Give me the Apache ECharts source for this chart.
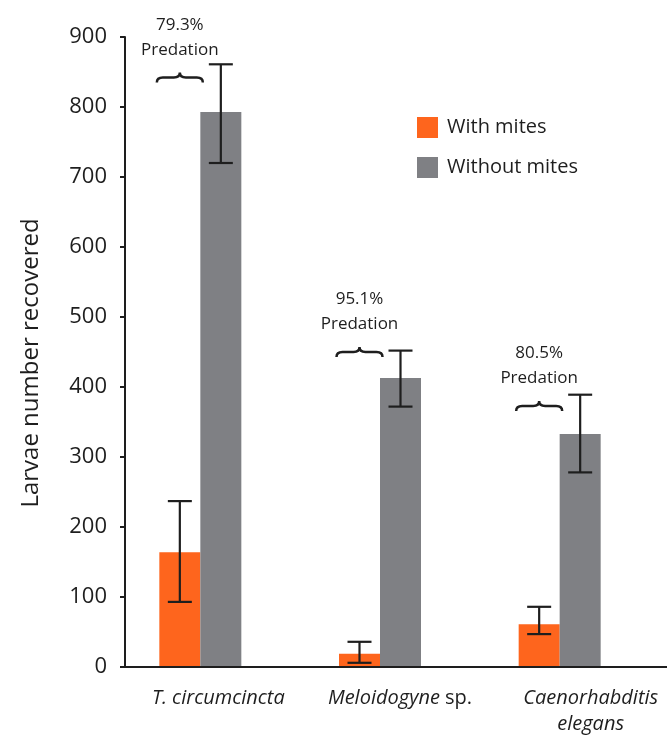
<!DOCTYPE html>
<html>
<head>
<meta charset="utf-8">
<script src="https://cdn.jsdelivr.net/npm/echarts@6/dist/echarts.min.js"></script>
<style>html,body{margin:0;padding:0;background:#fff}#c{width:667px;height:738px}</style>
</head>
<body>
<div id="c"></div>
<script>
var categories = ['T. circumcincta', 'Meloidogyne sp.', 'Caenorhabditis elegans'];
var withMites = [164, 19, 61];
var withMitesErrLow = [93, 6, 47];
var withMitesErrHigh = [237, 36, 86];
var withoutMites = [793, 413, 333];
var withoutMitesErrLow = [720, 372, 278];
var withoutMitesErrHigh = [861, 452, 389];
var predation = ['79.3%', '95.1%', '80.5%'];
var braceLevel = [842, 450, 373];
var yTicks = [0, 100, 200, 300, 400, 500, 600, 700, 800, 900];

var FONT = '"Open Sans"';
var WEIGHT = 400;
var INK = '#1e1e1e';
var ORANGE = '#fe651d';
var GRAY = '#7f8084';
var BAR_W = 41;

function errData(lo, hi) {
  return categories.map(function (c, i) { return [i, lo[i], hi[i]]; });
}
function errRender(offset) {
  return function (params, api) {
    var x = api.value(0);
    var lo = api.coord([x, api.value(1)]);
    var hi = api.coord([x, api.value(2)]);
    var cx = lo[0] + offset;
    var hw = 12;
    var st = { stroke: INK, lineWidth: 2.2 };
    return {
      type: 'group',
      children: [
        { type: 'line', shape: { x1: cx, y1: lo[1], x2: cx, y2: hi[1] }, style: st },
        { type: 'line', shape: { x1: cx - hw, y1: lo[1], x2: cx + hw, y2: lo[1] }, style: st },
        { type: 'line', shape: { x1: cx - hw, y1: hi[1], x2: cx + hw, y2: hi[1] }, style: st }
      ]
    };
  };
}

var labelPad = { 'T. circumcincta': 6, 'Meloidogyne sp.': 8, 'Caenorhabditis elegans': 28 };

var chart = echarts.init(document.getElementById('c'), null, { renderer: 'canvas' });
chart.setOption({
  animation: false,
  backgroundColor: '#ffffff',
  textStyle: { fontFamily: FONT, fontWeight: WEIGHT, color: INK },
  grid: [
    { left: 125, right: 0, top: 37, bottom: 71 },
    { left: 110.5, right: 17.5, top: 37, bottom: 71 }
  ],
  legend: {
    data: ['With mites', 'Without mites'],
    orient: 'vertical',
    left: 412, top: 112,
    itemWidth: 21, itemHeight: 21, itemGap: 19,
    icon: 'rect',
    textStyle: { fontFamily: FONT, fontWeight: WEIGHT, fontSize: 20, color: INK, padding: [0, 0, 0, 4] }
  },
  xAxis: [
    {
      type: 'category', gridIndex: 0, z: 10,
      data: categories.map(function (c) { return { value: c, textStyle: { padding: [0, 0, 0, labelPad[c]] } }; }),
      axisLine: { lineStyle: { color: INK, width: 2 } },
      axisTick: { show: false },
      axisLabel: {
        margin: 18, fontFamily: FONT, fontWeight: WEIGHT, fontSize: 20, color: INK, lineHeight: 26, interval: 0,
        formatter: function (v) {
          if (v === 'Meloidogyne sp.') return '{i|Meloidogyne} sp.';
          if (v === 'Caenorhabditis elegans') return '{i|Caenorhabditis}\n{i|elegans}';
          return '{i|' + v + '}';
        },
        rich: { i: { fontStyle: 'italic', fontFamily: FONT, fontWeight: WEIGHT, fontSize: 20, color: INK, lineHeight: 26 } }
      }
    },
    {
      type: 'category', gridIndex: 1, data: categories,
      axisLine: { show: false }, axisTick: { show: false }, axisLabel: { show: false }
    }
  ],
  yAxis: [
    {
      type: 'value', gridIndex: 0, min: 0, max: 900, interval: 100, z: 10,
      axisLine: { show: true, lineStyle: { color: INK, width: 2 } },
      axisTick: { show: true, length: 5, lineStyle: { color: INK, width: 2 } },
      splitLine: { show: false },
      axisLabel: { margin: 18, fontFamily: FONT, fontWeight: WEIGHT, fontSize: 22, color: INK }
    },
    {
      type: 'value', gridIndex: 1, min: 0, max: 900, interval: 100, show: false,
      splitLine: { show: false }
    }
  ],
  graphic: [
    {
      type: 'text', x: 31, y: 363, rotation: Math.PI / 2,
      style: { text: 'Larvae number recovered', fontFamily: FONT, fontWeight: WEIGHT, fontSize: 24, fill: INK, align: 'center', verticalAlign: 'middle' }
    }
  ],
  series: [
    {
      name: 'With mites', type: 'bar', xAxisIndex: 1, yAxisIndex: 1,
      data: withMites, barWidth: BAR_W, barGap: '0%', itemStyle: { color: ORANGE }, z: 2
    },
    {
      name: 'Without mites', type: 'bar', xAxisIndex: 1, yAxisIndex: 1,
      data: withoutMites, barWidth: BAR_W, barGap: '0%', itemStyle: { color: GRAY }, z: 2
    },
    {
      name: 'errWith', type: 'custom', xAxisIndex: 1, yAxisIndex: 1, z: 5,
      data: errData(withMitesErrLow, withMitesErrHigh), renderItem: errRender(-BAR_W / 2),
      encode: { x: 0, y: [1, 2] }, silent: true
    },
    {
      name: 'errWithout', type: 'custom', xAxisIndex: 1, yAxisIndex: 1, z: 5,
      data: errData(withoutMitesErrLow, withoutMitesErrHigh), renderItem: errRender(BAR_W / 2),
      encode: { x: 0, y: [1, 2] }, silent: true
    },
    {
      name: 'braces', type: 'custom', xAxisIndex: 1, yAxisIndex: 1, z: 6, silent: true,
      data: categories.map(function (c, i) { return [i, braceLevel[i], predation[i]]; }),
      encode: { x: 0, y: 1 },
      renderItem: function (params, api) {
        var i = params.dataIndex;
        var p = api.coord([api.value(0), api.value(1)]);
        var cx = p[0] - BAR_W / 2, cy = p[1];
        var path = 'M -23 5 Q -23 0 -17 0 L -6 0 Q 0 0 0 -5 Q 0 0 6 0 L 17 0 Q 23 0 23 5';
        return {
          type: 'group', x: cx, y: cy,
          children: [
            { type: 'path', shape: { pathData: path }, style: { stroke: INK, lineWidth: 2.5, fill: null } },
            {
              type: 'text', x: 0, y: -40,
              style: {
                text: predation[i] + '\nPredation', fontFamily: FONT, fontWeight: WEIGHT, fontSize: 17, lineHeight: 25,
                fill: INK, align: 'center', verticalAlign: 'middle'
              }
            }
          ]
        };
      }
    }
  ]
});
</script>
</body>
</html>
